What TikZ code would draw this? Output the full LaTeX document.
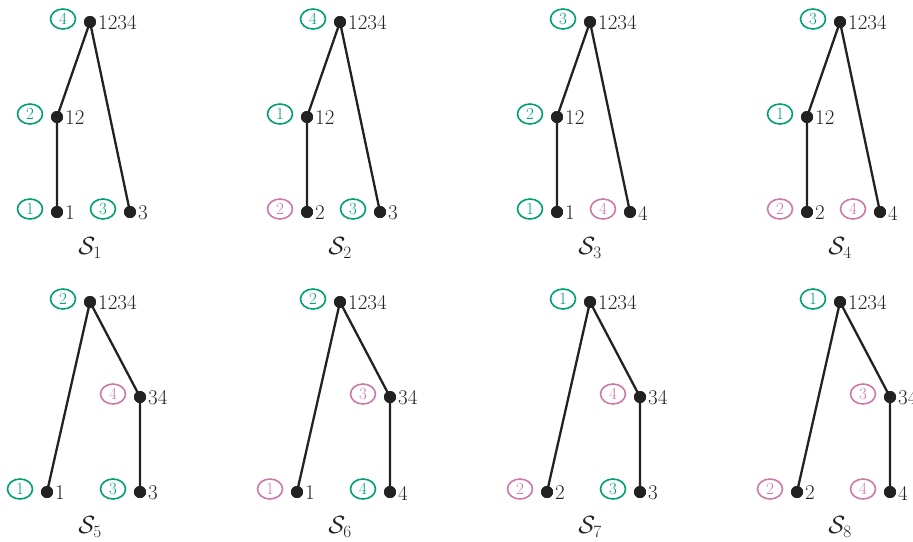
\documentclass[tikz,border=0pt]{standalone}
\usepackage{fontspec}
\usetikzlibrary{shapes.geometric,calc}
\definecolor{cg}{HTML}{009E73}
\definecolor{cp}{HTML}{CC79A7}
\definecolor{ink}{HTML}{222222}
\tikzset{
  dot/.style={circle,fill=ink,minimum size=12pt,inner sep=0pt},
  lab/.style={anchor=west,inner sep=0pt,text=ink,font=\fontsize{21}{22}\selectfont},
  ring/.style={ellipse,draw=#1,text=#1,line width=1.6pt,minimum width=25pt,minimum height=20pt,inner sep=0pt,font=\fontsize{17}{18}\selectfont},
  edge/.style={draw=ink,line width=2.3pt},
  title/.style={inner sep=0pt,text=ink,font=\fontsize{24}{25}\selectfont}
}
% #1 id, #2 x, #3 y, #4 mid dx, #5 leafA dx, #6 leafB dx,
% #7 mid label, #8 leafA label, #9 leafB label
\newcommand{\Tree}[9]{%
  \node[dot] (#1r) at (#2,#3) {};
  \node[dot] (#1m) at (#2+#4,#3+95) {};
  \node[dot] (#1a) at (#2+#5,#3+190) {};
  \node[dot] (#1b) at (#2+#6,#3+190) {};
  \node[lab] (#1rt) at ($(#1r)+(8,1)$) {1234};
  \node[lab] (#1mt) at ($(#1m)+(8,1)$) {#7};
  \node[lab] (#1at) at ($(#1a)+(8,1)$) {#8};
  \node[lab] (#1bt) at ($(#1b)+(8,1)$) {#9};
}
\newcommand{\Rings}[9]{%
  \node[ring=#2] (#1rc) at ($(#1r)+(-27,-3)$) {#6};
  \node[ring=#3] (#1mc) at ($(#1m)+(-27,-3)$) {#7};
  \node[ring=#4] (#1ac) at ($(#1a)+(-27,-3)$) {#8};
  \node[ring=#5] (#1bc) at ($(#1b)+(-27,-3)$) {#9};
}
\begin{document}
\begin{tikzpicture}[x=1pt,y=-1pt]
\useasboundingbox (0,0) rectangle (913,541);
% top row
\Tree{A}{90}{22}{-33}{-33}{40}{12}{1}{3}
\Rings{A}{cg}{cg}{cg}{cg}{4}{2}{1}{3}
\Tree{B}{340}{22}{-33}{-33}{40}{12}{2}{3}
\Rings{B}{cg}{cg}{cp}{cg}{4}{1}{2}{3}
\Tree{C}{590}{22}{-33}{-33}{40}{12}{1}{4}
\Rings{C}{cg}{cg}{cg}{cp}{3}{2}{1}{4}
\Tree{D}{840}{22}{-33}{-33}{40}{12}{2}{4}
\Rings{D}{cg}{cg}{cp}{cp}{3}{1}{2}{4}
% bottom row
\Tree{E}{90}{302}{50}{-43}{50}{34}{1}{3}
\Rings{E}{cg}{cp}{cg}{cg}{2}{4}{1}{3}
\Tree{F}{340}{302}{50}{-43}{50}{34}{1}{4}
\Rings{F}{cg}{cp}{cp}{cg}{2}{3}{1}{4}
\Tree{G}{590}{302}{50}{-43}{50}{34}{2}{3}
\Rings{G}{cg}{cp}{cp}{cg}{1}{4}{2}{3}
\Tree{H}{840}{302}{50}{-43}{50}{34}{2}{4}
\Rings{H}{cg}{cp}{cp}{cp}{1}{3}{2}{4}
% edges
\foreach \p in {A,B,C,D}{
  \draw[edge] (\p r.center) -- (\p m.center) -- (\p a.center);
  \draw[edge] (\p r.center) -- (\p b.center);
}
\foreach \p in {E,F,G,H}{
  \draw[edge] (\p r.center) -- (\p m.center) -- (\p b.center);
  \draw[edge] (\p r.center) -- (\p a.center);
}
\foreach \p in {A,B,C,D,E,F,G,H}{
  \node[dot] at (\p r) {};\node[dot] at (\p m) {};\node[dot] at (\p a) {};\node[dot] at (\p b) {};
}
% titles
\node[title] (tA) at (90,248) {$\mathcal{S}_1$};
\node[title] (tB) at (340,248) {$\mathcal{S}_2$};
\node[title] (tC) at (590,248) {$\mathcal{S}_3$};
\node[title] (tD) at (840,248) {$\mathcal{S}_4$};
\node[title] (tE) at (90,527) {$\mathcal{S}_5$};
\node[title] (tF) at (340,527) {$\mathcal{S}_6$};
\node[title] (tG) at (590,527) {$\mathcal{S}_7$};
\node[title] (tH) at (840,527) {$\mathcal{S}_8$};
\end{tikzpicture}
\end{document}
